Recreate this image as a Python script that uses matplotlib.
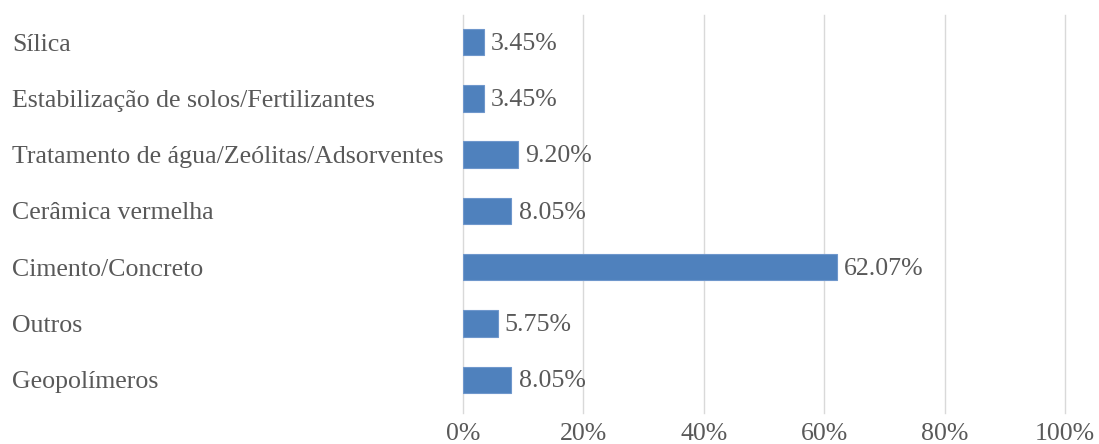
import matplotlib.pyplot as plt

categories = ['Sílica', 'Estabilização de solos/Fertilizantes',
              'Tratamento de água/Zeólitas/Adsorventes', 'Cerâmica vermelha',
              'Cimento/Concreto', 'Outros', 'Geopolímeros']
values = [3.45, 3.45, 9.20, 8.05, 62.07, 5.75, 8.05]
xticks = [0, 20, 40, 60, 80, 100]

plt.rcParams['font.family'] = 'Liberation Serif'
txt = '#595959'
fs = 18.6

fig = plt.figure(figsize=(10.99, 4.44), dpi=100)
ax = fig.add_axes([463/1099, 31/444, (1065-463)/1099, (413-15)/444])

ypos = list(range(len(categories)))
ax.barh(ypos, values, height=0.47, color='#4f81bd', edgecolor='#6f97cc', linewidth=0.8, zorder=3)
for y, v in zip(ypos, values):
    ax.text(v + 1.2, y + 0.03, f'{v:.2f}%', va='center', ha='left', fontsize=fs, color=txt)

ax.set_xlim(0, 100)
ax.set_ylim(6.59, -0.48)
ax.set_xticks(xticks)
ax.set_xticklabels([f'{t}%' for t in xticks], fontsize=fs, color=txt)
ax.set_yticks(ypos)
ax.set_yticklabels(categories, fontsize=fs, color=txt, ha='left')
ax.tick_params(axis='y', length=0, pad=(463-12)*0.72)
ax.tick_params(axis='x', length=0, pad=7)
ax.grid(axis='x', color='#d9d9d9', linewidth=1, zorder=0)
for g in ax.xaxis.get_gridlines():
    g.set_clip_on(False)
for s in ax.spines.values():
    s.set_visible(False)

fig.savefig('out.png', dpi=100)
